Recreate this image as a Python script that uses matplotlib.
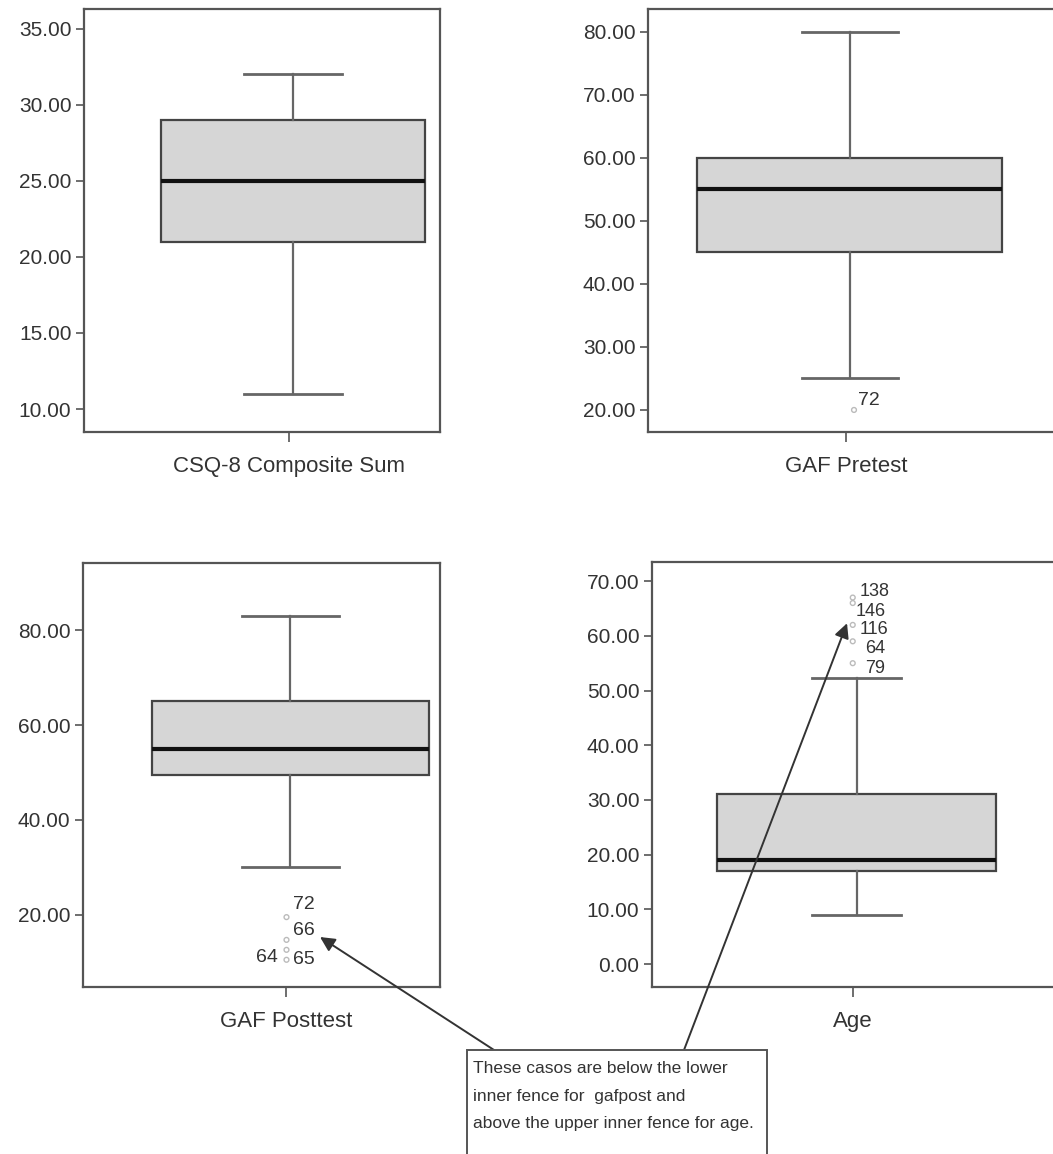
import matplotlib
matplotlib.use("Agg")
import matplotlib.pyplot as plt
from matplotlib.patches import Rectangle

plt.rcParams['font.family'] = ['Liberation Sans', 'DejaVu Sans']

# ---------------------------------------------------------------------------
# data
names = ["CSQ-8 Composite Sum", "GAF Pretest", "GAF Posttest", "Age"]

whis_lo = [11, 25, 30, 9]
q1 = [21, 45, 49.5, 17]
median = [25, 55, 55, 19]
q3 = [29, 60, 65, 31]
whis_hi = [32, 80, 83, 52.3]

# outliers: value + case number
gafpre_out = [20]
gafpre_case = ["72"]
gafpost_out = [19.5, 14.7, 12.6, 10.5]
gafpost_case = ["72", "66", "65", "64"]
age_out = [67, 66, 62, 59, 55]
age_case = ["138", "146", "116", "64", "79"]

yticks_list = [[10, 15, 20, 25, 30, 35], [20, 30, 40, 50, 60, 70, 80],
               [20, 40, 60, 80], [0, 10, 20, 30, 40, 50, 60, 70]]
ylims = [(8.49, 36.3), (16.5, 83.65), (4.76, 94.2), (-4.2, 73.5)]

note = ("These casos are below the lower\n"
        "inner fence for  gafpost and\n"
        "above the upper inner fence for age.")

# ---------------------------------------------------------------------------
W, H = 1053, 1154
fig = plt.figure(figsize=(W / 100, H / 100), dpi=100)
fig.patch.set_facecolor("white")


def px_axes(l, t, r, b):
    return fig.add_axes([l / W, 1 - b / H, (r - l) / W, (b - t) / H])


# axes frames in pixels (left, top, right, bottom), box center / widths
frames = [(84, 9, 440, 432), (648, 9, 1060, 432),
          (83, 563, 440, 987), (652, 562, 1060, 987)]
centers = [0.587, 0.49, 0.58, 0.502]
box_w = [0.744, 0.74, 0.776, 0.684]
cap_w = [0.275, 0.233, 0.272, 0.218]

edge = "#555555"
axes = []
for i in range(4):
    ax = px_axes(*frames[i])
    axes.append(ax)
    stats = [dict(whislo=whis_lo[i], q1=q1[i], med=median[i], q3=q3[i],
                  whishi=whis_hi[i], fliers=[])]
    ax.bxp(stats, positions=[centers[i]], widths=box_w[i], capwidths=cap_w[i],
           patch_artist=True, showfliers=False,
           boxprops=dict(facecolor="#d6d6d6", edgecolor="#444444", linewidth=1.6),
           medianprops=dict(color="#111111", linewidth=3),
           whiskerprops=dict(color="#666666", linewidth=1.6),
           capprops=dict(color="#666666", linewidth=2))
    ax.set_xlim(0, 1)
    ax.set_ylim(*ylims[i])
    ax.set_yticks(yticks_list[i])
    ax.set_yticklabels(["%.2f" % v for v in yticks_list[i]])
    ax.set_xticks([centers[i] - 0.01])
    ax.set_xticklabels([names[i]], fontsize=16, color="#333333")
    ax.tick_params(axis="y", labelsize=15, labelcolor="#333333", color=edge,
                   length=6, width=1.2, pad=3)
    ax.tick_params(axis="x", color=edge, length=7, width=1.2, pad=10)
    for s in ax.spines.values():
        s.set_color(edge)
        s.set_linewidth(1.6)

# outliers drawn as faint small circles with case numbers
def draw_out(ax, x, vals, cases, offs, fs=14):
    ax.scatter([x] * len(vals), vals, s=12, facecolors="none",
               edgecolors="#bbbbbb", linewidths=1, zorder=3)
    for v, c, (dx, dy, ha) in zip(vals, cases, offs):
        ax.annotate(c, (x, v), xytext=(dx, dy), textcoords="offset points",
                    ha=ha, va="center", fontsize=fs, color="#333333")


draw_out(axes[1], centers[1] + 0.01, gafpre_out, gafpre_case, [(3, 7, "left")])
draw_out(axes[2], centers[2] - 0.01, gafpost_out, gafpost_case,
         [(5, 9, "left"), (5, 7, "left"), (5, -7, "left"), (-6, 2, "right")])
draw_out(axes[3], centers[3] - 0.01, age_out, age_case,
         [(5, 4, "left"), (2, -6, "left"), (5, -3, "left"), (9, -5, "left"), (9, -4, "left")],
         fs=13)

# callout box at the bottom
fig.patches.append(Rectangle((467 / W, -0.01), 300 / W, (H - 1050) / H + 0.01,
                             transform=fig.transFigure, facecolor="white",
                             edgecolor=edge, linewidth=1.4, zorder=5))
fig.text(473 / W, 1 - 1061 / H, note, ha="left", va="top", fontsize=12.5,
         color="#333333", linespacing=2.05, zorder=6)

arrow = dict(arrowstyle="-|>", color="#333333", lw=1.4, mutation_scale=22,
             shrinkA=0, shrinkB=0)
axes[2].annotate("", xy=(0.664, 15.3), xycoords="data",
                 xytext=(494 / W, 1 - 1050 / H), textcoords="figure fraction",
                 arrowprops=arrow, annotation_clip=False, zorder=7)
axes[3].annotate("", xy=(0.478, 62.3), xycoords="data",
                 xytext=(684 / W, 1 - 1050 / H), textcoords="figure fraction",
                 arrowprops=arrow, annotation_clip=False, zorder=7)

plt.savefig("out.png", dpi=100)
